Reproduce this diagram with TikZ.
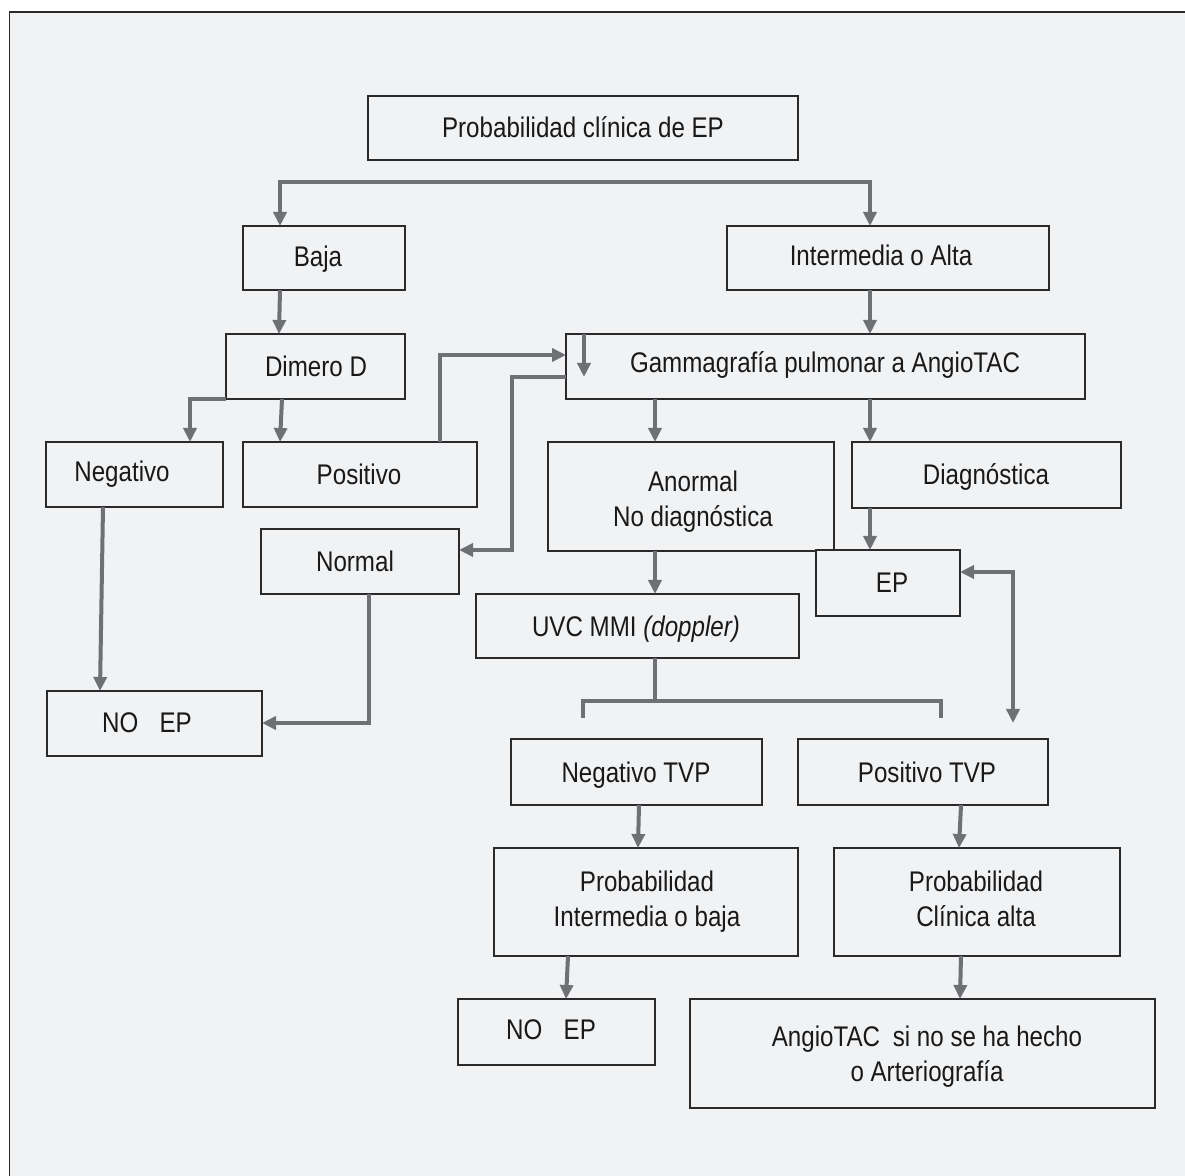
\documentclass[tikz,border=0pt]{standalone}
\usepackage{fontspec}
\setmainfont{Liberation Sans}[FakeStretch=0.85]
\usetikzlibrary{arrows.meta}
\definecolor{bg}{HTML}{F1F2F4}
\definecolor{edge}{HTML}{2A2A2A}
\definecolor{conn}{HTML}{6F7073}
\newcommand\bx[5]{\node[box, minimum width={(#4-#2)*0.5pt}, minimum height={(#5-#3)*0.5pt}] (#1) at ({(#2+#4)/2},{(#3+#5)/2}) {};}
\begin{document}
\begin{tikzpicture}[x=0.5pt,y=-0.5pt,
  box/.style={draw=edge, line width=0.8pt, inner sep=0pt, outer sep=0pt, fill=bg},
  txt/.style={inner sep=0pt, anchor=base, font=\fontsize{14.2pt}{17.5pt}\selectfont, text=black!90, align=center},
  wire/.style={draw=conn, line width=2pt},
  arr/.style={wire, -{Triangle[length=7pt,width=6.5pt]}},
  darr/.style={wire, {Triangle[length=7pt,width=6.5pt]}-{Triangle[length=7pt,width=6.5pt]}},
]
\useasboundingbox (0,0) rectangle (1185,1176);
\fill[bg] (9.5,12) rectangle (1185,1176);
\draw[edge, line width=0.8pt] (9.5,1176) -- (9.5,12) -- (1185,12);

% boxes
\bx{prob}{368}{96}{798}{160}
\bx{baja}{243}{226}{405}{290}
\bx{inter}{727}{226}{1049}{290}
\bx{dimero}{226}{334}{405}{399}
\bx{gamma}{566}{334}{1085}{399}
\bx{neg}{46}{442}{223}{507}
\bx{pos}{243}{442}{477}{507}
\bx{anormal}{548}{442}{834}{551}
\bx{diag}{852}{442}{1121}{508}
\bx{normal}{261}{529}{459}{594}
\bx{ep}{816}{550}{960}{616}
\bx{uvc}{476}{594}{799}{658}
\bx{noep1}{47}{691}{262}{756}
\bx{negtvp}{511}{739}{762}{805}
\bx{postvp}{798}{739}{1048}{805}
\bx{probint}{494}{848}{798}{956}
\bx{probalta}{834}{848}{1120}{956}
\bx{noep2}{458}{999}{655}{1065}
\bx{angio}{690}{999}{1155}{1108}

% texts (multi-line nodes: base = last line)
\node[txt] (t-prob) at (583,138) {Probabilidad clínica de EP};
\node[txt] (t-baja) at (318,267) {Baja};
\node[txt] (t-inter) at (881,266) {Intermedia o Alta};
\node[txt] (t-dimero) at (316,377) {Dimero D};
\node[txt] (t-gamma) at (825,373) {Gammagrafía pulmonar a AngioTAC};
\node[txt] (t-neg) at (122,482) {Negativo};
\node[txt] (t-pos) at (359,485) {Positivo};
\node[txt] (t-anormal) at (693,527) {Anormal\\No diagnóstica};
\node[txt] (t-diag) at (986,485) {Diagnóstica};
\node[txt] (t-normal) at (355,572) {Normal};
\node[txt] (t-ep) at (892,593) {EP};
\node[txt] (t-uvc) at (636,637) {UVC MMI \textit{(doppler)}};
\node[txt] (t-noep1) at (147,733) {NO\hspace{0.75em}EP};
\node[txt] (t-negtvp) at (636,783) {Negativo TVP};
\node[txt] (t-postvp) at (927,783) {Positivo TVP};
\node[txt] (t-probint) at (647,927) {Probabilidad\\Intermedia o baja};
\node[txt] (t-probalta) at (976,927) {Probabilidad\\Clínica alta};
\node[txt] (t-noep2) at (551,1039) {NO\hspace{0.75em}EP};
\node[txt] (t-angio) at (927,1081) {AngioTAC\hspace{0.45em}si no se ha hecho\\o Arteriografía};

% connectors
\draw[darr] (baja.north -| 280,0) -- (280,182) -- (870,182) -- (inter.north -| 870,0);
\draw[arr] (baja.south -| 280,0) -- (dimero.north -| 279,0);
\draw[arr] (inter.south -| 870,0) -- (gamma.north -| 870,0);
\draw[arr] (dimero.south west) -| (neg.north -| 190,0);
\draw[arr] (dimero.south -| 282,0) -- (pos.north -| 280,0);
\draw[arr] (pos.north -| 440,0) |- (gamma.west |- 0,355);
\draw[arr] (gamma.west |- 0,377) -| (512,550) -- (normal.east |- 0,550);
\draw[arr] (gamma.north -| 584,0) -- (584,377);
\draw[arr] (gamma.south -| 655,0) -- (anormal.north -| 655,0);
\draw[arr] (gamma.south -| 870,0) -- (diag.north -| 870,0);
\draw[arr] (diag.south -| 870,0) -- (ep.north -| 870,0);
\draw[arr] (anormal.south -| 655,0) -- (uvc.north -| 655,0);
\draw[arr] (neg.south -| 103,0) -- (noep1.north -| 100,0);
\draw[arr] (normal.south -| 369,0) |- (noep1.east |- 0,723);
\draw[wire] (uvc.south -| 655,0) -- (655,701);
\draw[wire] (583,718) -- (583,701) -- (941,701) -- (941,718);
\draw[darr] (ep.east |- 0,572) -| (1013,723);
\draw[arr] (negtvp.south -| 639,0) -- (probint.north -| 638,0);
\draw[arr] (postvp.south -| 961,0) -- (probalta.north -| 959,0);
\draw[arr] (probint.south -| 568,0) -- (noep2.north -| 566,0);
\draw[arr] (probalta.south -| 961,0) -- (angio.north -| 960,0);
\end{tikzpicture}
\end{document}
